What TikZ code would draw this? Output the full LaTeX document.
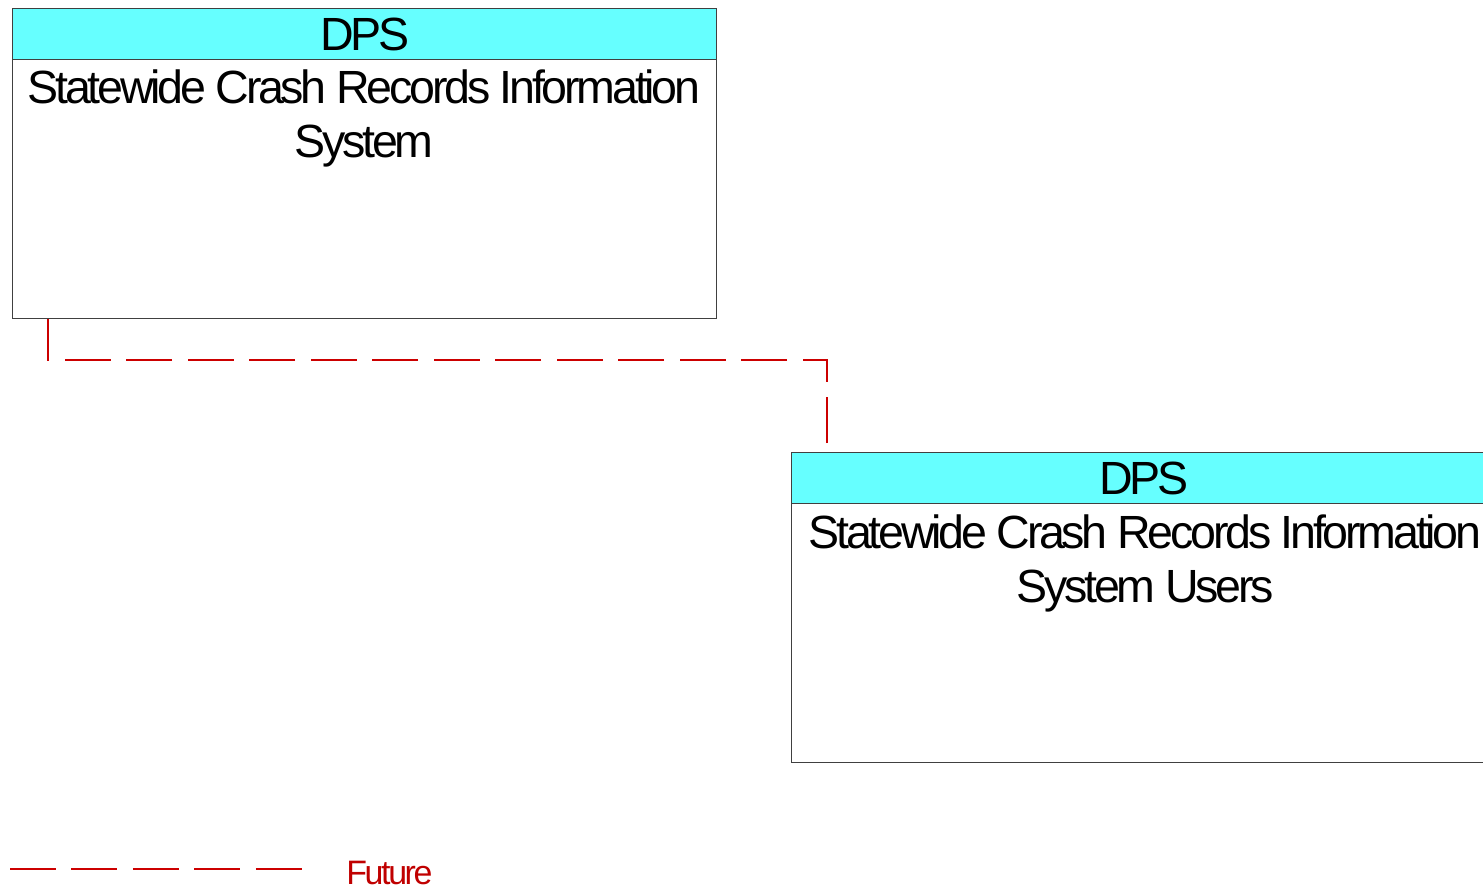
\documentclass[tikz,border=0pt]{standalone}
\usepackage{fontspec}
\setmainfont{Liberation Sans}[LetterSpace=-7]
\usepackage{tikz}
\usetikzlibrary{positioning, calc}
\definecolor{hdrcyan}{RGB}{102,255,255}
\definecolor{futurered}{RGB}{204,0,0}
\definecolor{legendred}{RGB}{192,0,0}
\definecolor{edgegray}{RGB}{64,64,64}

\begin{document}
\begin{tikzpicture}[
    x=0.02cm, y=-0.02cm,
    sysbox/.style={draw=edgegray, line width=0.8pt, minimum width=14.08cm, minimum height=6.2cm, anchor=north west, inner sep=0pt},
    hdr/.style={draw=edgegray, line width=0.8pt, fill=hdrcyan, minimum width=14.08cm, minimum height=1.02cm, anchor=north west, inner sep=0pt, font=\fontsize{26.5pt}{30.7pt}\selectfont},
    nametxt/.style={align=center, anchor=base, inner sep=0pt, font=\fontsize{26.5pt}{30.7pt}\selectfont},
    future/.style={futurered, line width=0.7pt, dash pattern=on 0.92cm off 0.31cm},
]
  \useasboundingbox (0,0) rectangle (1483,889);

  % Top: crash records system
  \node[sysbox] (crs) at (12,8) {};
  \node[hdr] (crshdr) at (crs.north west) {DPS};
  \node[nametxt] (crsname) at (364,157) {Statewide Crash Records Information\\System};

  % Right: system users
  \node[sysbox] (usr) at (791,452) {};
  \node[hdr] (usrhdr) at (usr.north west) {DPS};
  \node[nametxt] (usrname) at (1145,602) {Statewide Crash Records Information\\System Users};

  % Future flow between them
  \coordinate (usrtap) at ([xshift=0.72cm, yshift=0.18cm]usr.north west);
  \coordinate (crstap) at ([xshift=0.72cm]crs.south west);
  \draw[future] (usrtap) -- ++(0,-83) -| (crstap);

  % Legend
  \coordinate (lgA) at (10,869);
  \coordinate (lgB) at (304,869);
  \draw[future] (lgA) -- (lgB);
  \node[anchor=base west, inner sep=0pt, text=legendred, font=\fontsize{19.3pt}{22pt}\selectfont] (lgtxt) at (346,884) {Future};
\end{tikzpicture}
\end{document}
